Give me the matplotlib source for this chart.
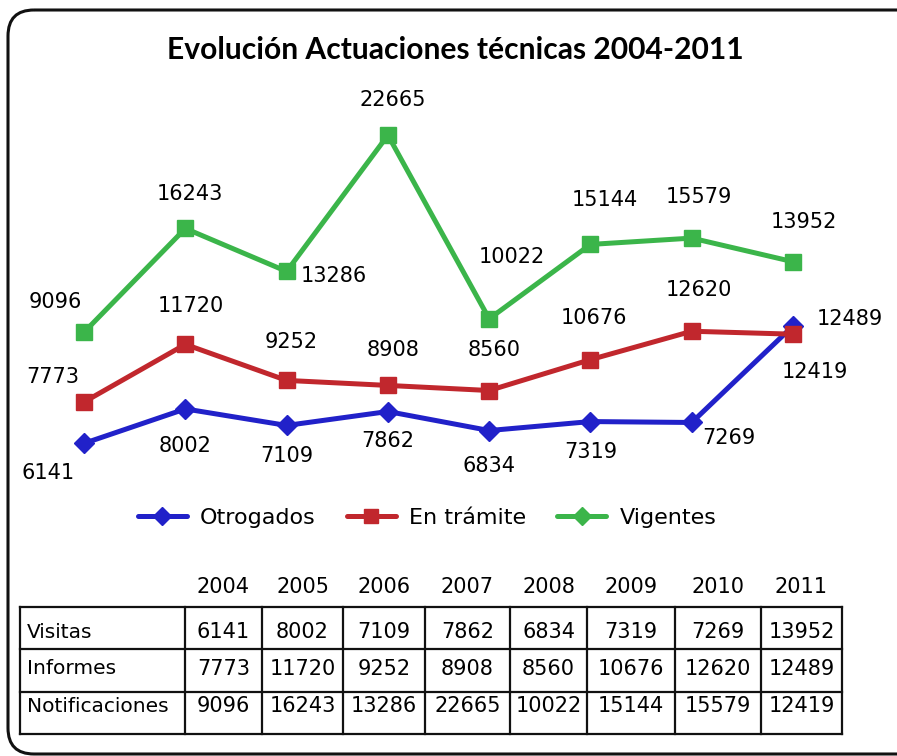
import matplotlib
matplotlib.use("Agg")
import matplotlib.pyplot as plt
from matplotlib.lines import Line2D
from matplotlib.patches import FancyBboxPatch

# series shown in the chart (values as labelled on each point)
years = ["2004", "2005", "2006", "2007", "2008", "2009", "2010", "2011"]
otorgados = [6141, 8002, 7109, 7862, 6834, 7319, 7269, 12489]
en_tramite = [7773, 11720, 9252, 8908, 8560, 10676, 12620, 12419]
vigentes = [9096, 16243, 13286, 22665, 10022, 15144, 15579, 13952]

# rows of the summary table under the chart
row_names = ["Visitas", "Informes", "Notificaciones"]
visitas = [6141, 8002, 7109, 7862, 6834, 7319, 7269, 13952]
informes = [7773, 11720, 9252, 8908, 8560, 10676, 12620, 12489]
notificaciones = [9096, 16243, 13286, 22665, 10022, 15144, 15579, 12419]

BLUE = "#2121c9"
RED = "#c1272d"
GREEN = "#3bb54a"

W, H = 897, 756
fig = plt.figure(figsize=(W / 100, H / 100), dpi=100)


def px_rect(left, top, width, height):
    return [left / W, 1 - (top + height) / H, width / W, height / H]


# each line lives on its own (hidden) vertical scale
plot_box = px_rect(33.4, 100, 810.3, 380)
ax_b = fig.add_axes(plot_box)
ax_r = fig.add_axes(plot_box)
ax_g = fig.add_axes(plot_box)

series = [
    (ax_b, otorgados, BLUE, "D", 10.5, (4160, 24700),
     [(-36, -30), (0, -37), (0, -31), (0, -29), (0, -35), (0, -30), (37, -16), (57, 7)]),
    (ax_r, en_tramite, RED, "s", 11.5, (2430, 28460),
     [(-31, 25), (5, 38), (5, 38), (5, 35), (5, 41), (3, 42), (7, 41), (22, -38)]),
    (ax_g, vigentes, GREEN, "s", 11.5, (-1080, 25090),
     [(-29, 30), (5, 34), (47, -5), (5, 35), (23, 62), (14, 44), (7, 41), (11, 40)]),
]

x = list(range(len(years)))
for ax, vals, color, marker, ms, lims, offsets in series:
    ax.plot(x, vals, color=color, lw=3.6, marker=marker, markersize=ms,
            solid_joinstyle="round")
    ax.set_xlim(-0.5, 7.5)
    ax.set_ylim(*lims)
    ax.axis("off")
    ax.patch.set_alpha(0)
    for xi, v, (dx, dy) in zip(x, vals, offsets):
        ax.annotate(str(v), (xi, v), xytext=(dx, dy), textcoords="offset pixels",
                    ha="center", va="center", fontsize=15, color="black",
                    annotation_clip=False)

# overlay in pixel units for frame, title, legend and table
ov = fig.add_axes([0, 0, 1, 1])
ov.set_xlim(0, W)
ov.set_ylim(H, 0)
ov.axis("off")
ov.patch.set_alpha(0)

frame = FancyBboxPatch((8, 10), 925, 744, boxstyle="round,pad=0,rounding_size=26",
                       fc="none", ec="#111111", lw=2.2, clip_on=False)
ov.add_patch(frame)

ov.text(455, 50, "Evolución Actuaciones técnicas 2004-2011", ha="center", va="center",
        fontsize=21.6, fontweight="bold", family="Lato")

handles = [
    Line2D([], [], color=BLUE, lw=3.6, marker="D", markersize=9, solid_capstyle="round"),
    Line2D([], [], color=RED, lw=3.6, marker="s", markersize=10, solid_capstyle="round"),
    Line2D([], [], color=GREEN, lw=3.6, marker="D", markersize=9, solid_capstyle="round"),
]
fig.legend(handles, ["Otrogados", "En trámite", "Vigentes"], loc="center",
           bbox_to_anchor=(427 / W, 1 - 518 / H), ncol=3, frameon=False,
           fontsize=16, handlelength=2.2, handletextpad=0.6, columnspacing=1.4)

# table
col_edges = [20, 185, 262, 343, 425, 510, 587, 675, 761, 842]
row_edges = [607, 649, 692, 734]
row_text_y = [632, 669, 706]
for xe in col_edges:
    ov.plot([xe, xe], [row_edges[0], row_edges[-1]], color="#111111", lw=1.6)
for ye in row_edges:
    ov.plot([col_edges[0], col_edges[-1]], [ye, ye], color="#111111", lw=1.6)

for i, yr in enumerate(years):
    cx = (col_edges[i + 1] + col_edges[i + 2]) / 2
    ov.text(cx, 587, yr, ha="center", va="center", fontsize=15)

for name, vals, ty in zip(row_names, [visitas, informes, notificaciones], row_text_y):
    ov.text(27, ty, name, ha="left", va="center", fontsize=14.5)
    for i, v in enumerate(vals):
        cx = (col_edges[i + 1] + col_edges[i + 2]) / 2
        ov.text(cx, ty, str(v), ha="center", va="center", fontsize=15)

fig.savefig("out.png", dpi=100)
